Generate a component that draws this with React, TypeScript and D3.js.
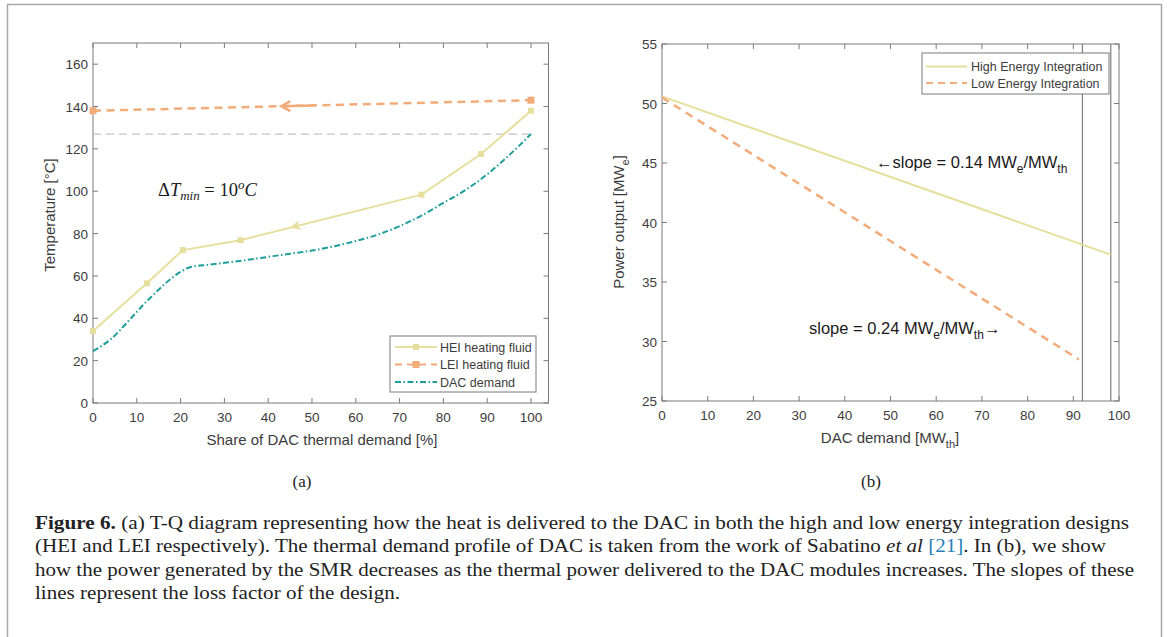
import React from 'react';
import * as d3 from 'd3';

// ---------- Data: panel (a) ----------
const heiShare = [0, 12.3, 20.5, 33.7, 75, 88.6, 100];
const heiTemp = [34, 56.5, 72.2, 76.9, 98.4, 117.6, 138];
const leiShare = [0, 100];
const leiTemp = [138, 143];
const dacShare = [0, 2, 4, 6, 8, 10, 12, 14, 16, 18, 20, 22, 23.5, 25, 30, 35, 40, 45, 50, 55, 60, 65, 70, 75, 80, 85, 90, 95, 100];
const dacTemp = [24.5, 27, 30, 34, 38.5, 43, 47.5, 51.5, 55.5, 59, 62, 64, 64.7, 65, 66.2, 67.5, 69, 70.5, 72, 74, 76.5, 79.5, 83.5, 88.5, 94.5, 100.5, 108, 117, 127];
const pinchTemp = 127;
const heiArrowShare = 44.9;
const leiArrowShare = [43, 50.5];
const aXTicks = [0, 10, 20, 30, 40, 50, 60, 70, 80, 90, 100];
const aYTicks = [0, 20, 40, 60, 80, 100, 120, 140, 160];

// ---------- Data: panel (b) ----------
const heiDemand = [0, 98.2];
const heiPower = [50.6, 37.3];
const leiDemand = [0, 91.2];
const leiPower = [50.5, 28.5];
const capacityLines = [92, 98.2];
const bXTicks = [0, 10, 20, 30, 40, 50, 60, 70, 80, 90, 100];
const bYTicks = [25, 30, 35, 40, 45, 50, 55];

const captionLines = [
  'Figure 6. (a) T-Q diagram representing how the heat is delivered to the DAC in both the high and low energy integration designs',
  '(HEI and LEI respectively). The thermal demand profile of DAC is taken from the work of Sabatino et al [21]. In (b), we show',
  'how the power generated by the SMR decreases as the thermal power delivered to the DAC modules increases. The slopes of these',
  'lines represent the loss factor of the design.',
];

const C_HEI = '#e6df9d';
const C_LEI = '#f2ac7a';
const C_DAC = '#1d9e9a';
const AX = '#7a7a7a';
const TX = '#3c3c3c';
const SANS = '"Liberation Sans", Arial, Helvetica, sans-serif';
const SERIF = '"Liberation Serif", "Times New Roman", serif';

function Frame({ x, y, xTicks, yTicks }: any) {
  const [x0, x1] = x.range();
  const [y0, y1] = y.range();
  const tl = 5;
  return (
    <g>
      <rect x={x0} y={y1} width={x1 - x0} height={y0 - y1} fill="none" stroke={AX} strokeWidth={1} />
      {xTicks.map((t: number) => (
        <g key={'x' + t}>
          <line x1={x(t)} x2={x(t)} y1={y0} y2={y0 - tl} stroke={AX} />
          <line x1={x(t)} x2={x(t)} y1={y1} y2={y1 + tl} stroke={AX} />
          <text x={x(t)} y={y0 + 19} textAnchor="middle" fontFamily={SANS} fontSize={13.5} fill={TX}>{t}</text>
        </g>
      ))}
      {yTicks.map((t: number) => (
        <g key={'y' + t}>
          <line x1={x0} x2={x0 + tl} y1={y(t)} y2={y(t)} stroke={AX} />
          <line x1={x1} x2={x1 - tl} y1={y(t)} y2={y(t)} stroke={AX} />
          <text x={x0 - 5} y={y(t) + 5} textAnchor="end" fontFamily={SANS} fontSize={13.5} fill={TX}>{t}</text>
        </g>
      ))}
    </g>
  );
}

export default function App() {
  // panel (a)
  const xa = d3.scaleLinear().domain([0, 104]).range([93, 548.5]);
  const ya = d3.scaleLinear().domain([0, 170]).range([403, 43]);
  // panel (b)
  const xb = d3.scaleLinear().domain([0, 100]).range([662, 1119]);
  const yb = d3.scaleLinear().domain([25, 55]).range([401, 44]);

  const lineA = d3.line<[number, number]>().x((d) => xa(d[0])).y((d) => ya(d[1]));
  const lineB = d3.line<[number, number]>().x((d) => xb(d[0])).y((d) => yb(d[1]));
  const curveA = d3.line<[number, number]>().x((d) => xa(d[0])).y((d) => ya(d[1])).curve(d3.curveMonotoneX);

  const hei = heiShare.map((s, i) => [s, heiTemp[i]] as [number, number]);
  const lei = leiShare.map((s, i) => [s, leiTemp[i]] as [number, number]);
  const dac = dacShare.map((s, i) => [s, dacTemp[i]] as [number, number]);

  // HEI arrow direction (pointing toward lower share)
  const hx = heiArrowShare;
  const segI = heiShare.findIndex((s, i) => i < heiShare.length - 1 && s <= hx && heiShare[i + 1] >= hx);
  const hTemp = heiTemp[segI] + (heiTemp[segI + 1] - heiTemp[segI]) * (hx - heiShare[segI]) / (heiShare[segI + 1] - heiShare[segI]);
  const px = xa(hx), py = ya(hTemp);
  const ang = Math.atan2(ya(heiTemp[segI]) - ya(heiTemp[segI + 1]), xa(heiShare[segI]) - xa(heiShare[segI + 1]));

  const leiT = (s: number) => leiTemp[0] + (leiTemp[1] - leiTemp[0]) * (s - leiShare[0]) / (leiShare[1] - leiShare[0]);
  const la = leiArrowShare[0], lb = leiArrowShare[1];

  const hb = heiDemand.map((s, i) => [s, heiPower[i]] as [number, number]);
  const lbd = leiDemand.map((s, i) => [s, leiPower[i]] as [number, number]);

  const capX = [35, 35, 35, 35];
  const capW = [1094, 1071, 1099, 365];
  const capY = [529, 552, 576, 599];

  return (
    <svg width={1167} height={637} style={{ position: 'absolute', left: 0, top: 0, background: '#fff' }}>
      <rect x={0} y={0} width={1167} height={637} fill="#fff" />
      {/* outer frame */}
      <path d="M7.5,640 V4.5 H1161.5 V640" fill="none" stroke="#a8a8a8" strokeWidth={1.5} />

      {/* ---------- panel (a) ---------- */}
      <Frame x={xa} y={ya} xTicks={aXTicks} yTicks={aYTicks} />
      <line x1={xa(0)} x2={xa(100)} y1={ya(pinchTemp)} y2={ya(pinchTemp)} stroke="#c4c4c4" strokeWidth={1.2} strokeDasharray="8,5" />
      <path d={curveA(dac) || ''} fill="none" stroke={C_DAC} strokeWidth={2} strokeDasharray="6,2.5,1.5,2.5" />
      <path d={lineA(hei) || ''} fill="none" stroke={C_HEI} strokeWidth={2} />
      {hei.map((d, i) => (
        <rect key={'hm' + i} x={xa(d[0]) - 3} y={ya(d[1]) - 3} width={6} height={6} fill={C_HEI} />
      ))}
      <polygon
        points="0,0 11,-5 8,0 11,5"
        transform={`translate(${px},${py}) rotate(${(ang * 180) / Math.PI + 180})`}
        fill={C_HEI}
      />
      <path d={lineA(lei) || ''} fill="none" stroke={C_LEI} strokeWidth={2.5} strokeDasharray="8,5.5" />
      {lei.map((d, i) => (
        <rect key={'lm' + i} x={xa(d[0]) - 3.5} y={ya(d[1]) - 3.5} width={7} height={7} fill={C_LEI} />
      ))}
      <line x1={xa(la)} x2={xa(lb)} y1={ya(leiT(la))} y2={ya(leiT(lb))} stroke={C_LEI} strokeWidth={2.5} />
      <polyline
        points={`${xa(la) + 9},${ya(leiT(la)) - 5} ${xa(la)},${ya(leiT(la))} ${xa(la) + 9},${ya(leiT(la)) + 5}`}
        fill="none"
        stroke={C_LEI}
        strokeWidth={2.5}
      />
      <text x={158} y={196} fontFamily={SERIF} fontSize={18.5} fill="#1a1a1a">
        <tspan>Δ</tspan>
        <tspan fontStyle="italic">T</tspan>
        <tspan fontStyle="italic" fontSize={13} dy={4}>min</tspan>
        <tspan dy={-4}> = 10</tspan>
        <tspan fontStyle="italic" fontSize={13} dy={-7}>o</tspan>
        <tspan fontStyle="italic" dy={7}>C</tspan>
      </text>
      {/* legend (a) */}
      <rect x={390} y={336} width={146} height={56} fill="#fff" stroke={AX} strokeWidth={1} />
      <line x1={395} x2={437} y1={347} y2={347} stroke={C_HEI} strokeWidth={2} />
      <rect x={413} y={344} width={6} height={6} fill={C_HEI} />
      <line x1={395} x2={437} y1={364.5} y2={364.5} stroke={C_LEI} strokeWidth={2} strokeDasharray="7,5" />
      <rect x={412.5} y={361} width={7} height={7} fill={C_LEI} />
      <line x1={395} x2={437} y1={382} y2={382} stroke={C_DAC} strokeWidth={2} strokeDasharray="6,2.5,1.5,2.5" />
      <g fontFamily={SANS} fontSize={12.5} fill={TX}>
        <text x={440} y={351.5}>HEI heating fluid</text>
        <text x={440} y={369}>LEI heating fluid</text>
        <text x={440} y={386.5}>DAC demand</text>
      </g>
      <text x={322} y={445} textAnchor="middle" fontFamily={SANS} fontSize={15} fill={TX}>Share of DAC thermal demand [%]</text>
      <text transform="translate(55,215) rotate(-90)" textAnchor="middle" fontFamily={SANS} fontSize={15} fill={TX}>Temperature [°C]</text>

      {/* ---------- panel (b) ---------- */}
      <Frame x={xb} y={yb} xTicks={bXTicks} yTicks={bYTicks} />
      {capacityLines.map((c) => (
        <line key={'cap' + c} x1={xb(c)} x2={xb(c)} y1={yb(25)} y2={yb(55)} stroke="#7d7d7d" strokeWidth={1.2} />
      ))}
      <path d={lineB(hb) || ''} fill="none" stroke={C_HEI} strokeWidth={2} />
      <path d={lineB(lbd) || ''} fill="none" stroke={C_LEI} strokeWidth={2.5} strokeDasharray="8,6" />
      <text x={876} y={168} fontFamily={SANS} fontSize={16.5} fill="#1a1a1a">
        <tspan>←slope = 0.14 MW</tspan>
        <tspan fontSize={12} dy={5}>e</tspan>
        <tspan dy={-5}>/MW</tspan>
        <tspan fontSize={12} dy={5}>th</tspan>
      </text>
      <text x={809} y={334} fontFamily={SANS} fontSize={16.5} fill="#1a1a1a">
        <tspan>slope = 0.24 MW</tspan>
        <tspan fontSize={12} dy={5}>e</tspan>
        <tspan dy={-5}>/MW</tspan>
        <tspan fontSize={12} dy={5}>th</tspan>
        <tspan dy={-5}>→</tspan>
      </text>
      {/* legend (b) */}
      <rect x={922} y={53} width={187} height={41} fill="#fff" stroke={AX} strokeWidth={1} />
      <line x1={926} x2={967} y1={66.5} y2={66.5} stroke={C_HEI} strokeWidth={2} />
      <line x1={926} x2={967} y1={83} y2={83} stroke={C_LEI} strokeWidth={2} strokeDasharray="7,5" />
      <g fontFamily={SANS} fontSize={12.5} fill={TX}>
        <text x={971} y={71}>High Energy Integration</text>
        <text x={971} y={87.5}>Low Energy Integration</text>
      </g>
      <text x={890} y={443} textAnchor="middle" fontFamily={SANS} fontSize={15} fill={TX}>
        <tspan>DAC demand [MW</tspan>
        <tspan fontSize={11} dy={5}>th</tspan>
        <tspan dy={-5}>]</tspan>
      </text>
      <text transform="translate(624,222) rotate(-90)" textAnchor="middle" fontFamily={SANS} fontSize={15} fill={TX}>
        <tspan>Power output [MW</tspan>
        <tspan fontSize={11} dy={5}>e</tspan>
        <tspan dy={-5}>]</tspan>
      </text>

      {/* panel labels */}
      <text x={302} y={487} textAnchor="middle" fontFamily={SERIF} fontSize={17} fill="#222">(a)</text>
      <text x={871} y={487} textAnchor="middle" fontFamily={SERIF} fontSize={17} fill="#222">(b)</text>

      {/* caption */}
      <g fontFamily={SERIF} fontSize={18.5} fill="#222">
        <text x={capX[0]} y={capY[0]} textLength={capW[0]} lengthAdjust="spacingAndGlyphs">
          <tspan fontWeight="bold">Figure 6.</tspan>
          <tspan>{captionLines[0].replace('Figure 6.', '')}</tspan>
        </text>
        <text x={capX[1]} y={capY[1]} textLength={capW[1]} lengthAdjust="spacingAndGlyphs">
          <tspan>{'(HEI and LEI respectively). The thermal demand profile of DAC is taken from the work of Sabatino '}</tspan>
          <tspan fontStyle="italic">et al</tspan>
          <tspan> </tspan>
          <tspan fill="#2a7fb8">[21]</tspan>
          <tspan>. In (b), we show</tspan>
        </text>
        <text x={capX[2]} y={capY[2]} textLength={capW[2]} lengthAdjust="spacingAndGlyphs">{captionLines[2]}</text>
        <text x={capX[3]} y={capY[3]} textLength={capW[3]} lengthAdjust="spacingAndGlyphs">{captionLines[3]}</text>
      </g>
    </svg>
  );
}
